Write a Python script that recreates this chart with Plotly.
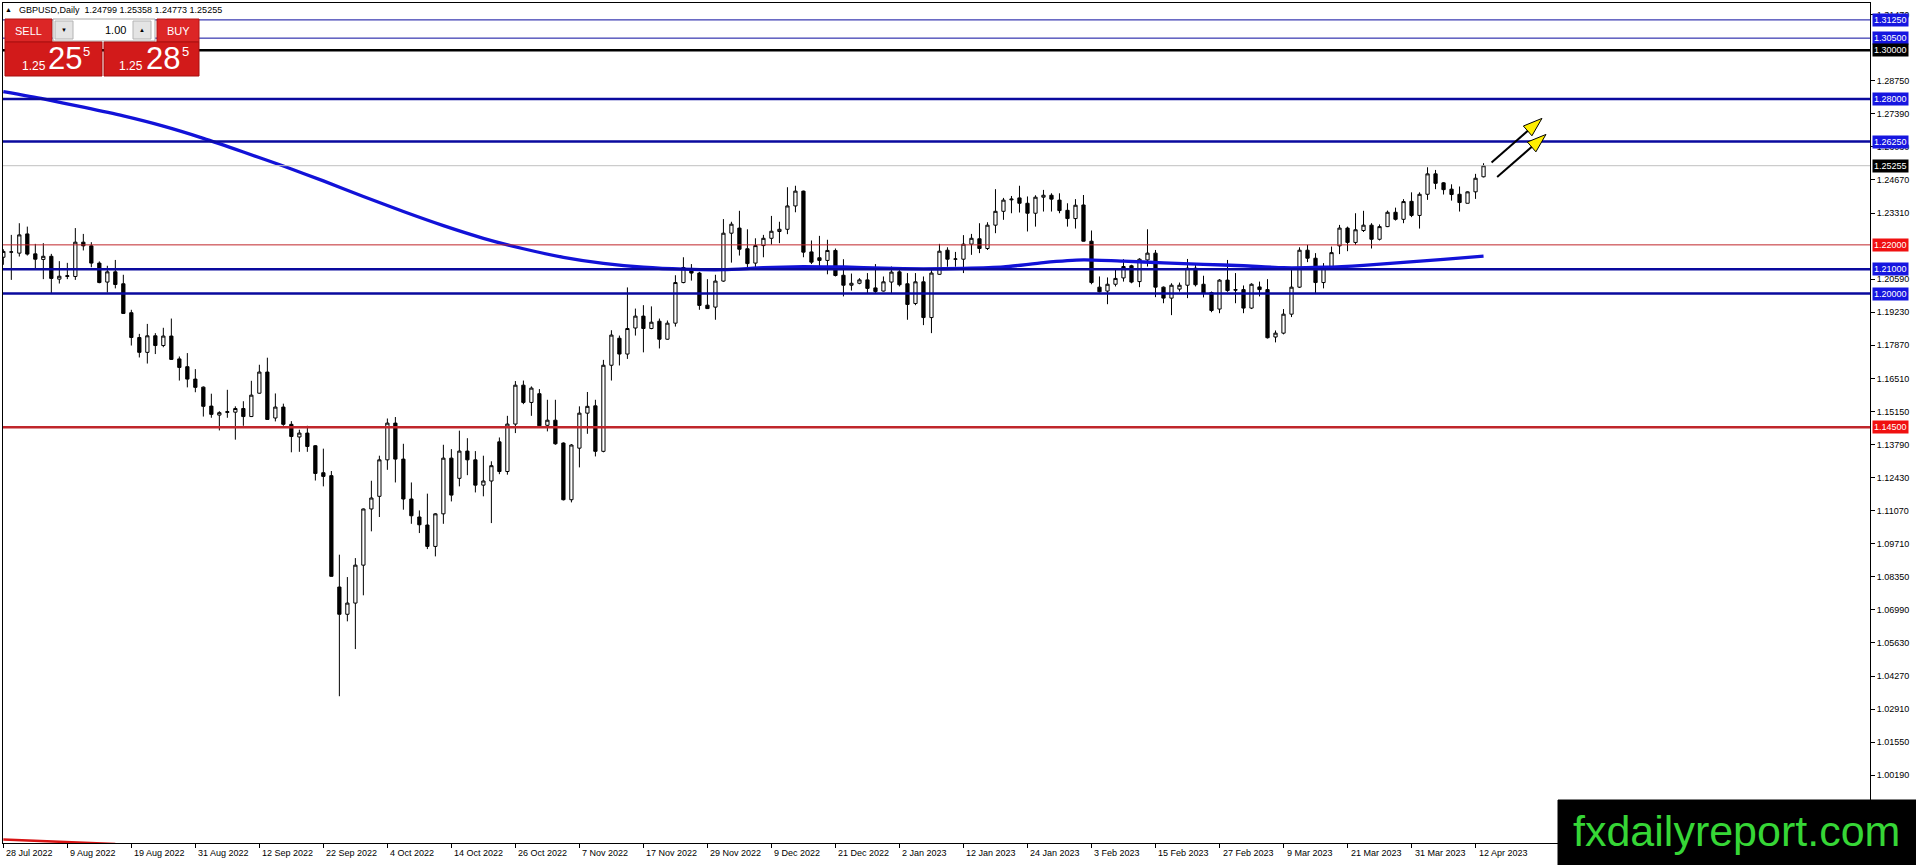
import pandas as pd
import plotly.graph_objects as go

# GBPUSD daily candles, 28 Jul 2022 .. 13 Apr 2023
opens = [
    1.2149, 1.2170, 1.2166, 1.2245, 1.2163, 1.2140, 1.2153, 1.2059, 1.2070, 1.2070,
    1.2211, 1.2196, 1.2125, 1.2047, 1.2089, 1.2040, 1.1921, 1.1819, 1.1758, 1.1826,
    1.1786, 1.1825, 1.1731, 1.1699, 1.1648, 1.1615, 1.1537, 1.1500, 1.1511, 1.1512,
    1.1527, 1.1494, 1.1590, 1.1677, 1.1488, 1.1533, 1.1462, 1.1410, 1.1426, 1.1374,
    1.1263, 1.1251, 1.0793, 1.0681, 1.0727, 1.0883, 1.1114, 1.1166, 1.1316, 1.1467,
    1.1319, 1.1155, 1.1081, 1.1048, 1.0960, 1.1094, 1.1323, 1.1240, 1.1352, 1.1316,
    1.1212, 1.1229, 1.1390, 1.1268, 1.1463, 1.1623, 1.1552, 1.1588, 1.1458, 1.1479,
    1.1385, 1.1152, 1.1364, 1.1508, 1.1538, 1.1351, 1.1705, 1.1816, 1.1751, 1.1858,
    1.1907, 1.1856, 1.1886, 1.1812, 1.1878, 1.2045, 1.2103, 1.2084, 1.1952, 1.1944,
    1.2051, 1.2248, 1.2269, 1.2184, 1.2125, 1.2197, 1.2227, 1.2255, 1.2264, 1.2360,
    1.2421, 1.2171, 1.2147, 1.2136, 1.2177, 1.2075, 1.2034, 1.2042, 1.2056, 1.2023,
    1.2010, 1.2047, 1.2089, 1.2040, 1.1959, 1.2048, 1.1901, 1.2079, 1.2178, 1.2141,
    1.2141, 1.2203, 1.2225, 1.2185, 1.2281, 1.2338, 1.2385, 1.2393, 1.2371, 1.2330,
    1.2396, 1.2404, 1.2384, 1.2342, 1.2308, 1.2364, 1.2215, 1.2026, 1.2010, 1.2038,
    1.2064, 1.2114, 1.2049, 1.2138, 1.2166, 1.2026, 1.1981, 1.2018, 1.2034, 1.2104,
    1.2038, 1.2004, 1.1936, 1.2055, 1.2016, 1.2016, 1.1940, 1.2027, 1.2016, 1.1821,
    1.1837, 1.1915, 1.2026, 1.2178, 1.2145, 1.2045, 1.2111, 1.2196, 1.2269, 1.2210,
    1.2259, 1.2281, 1.2223, 1.2275, 1.2334, 1.2305, 1.2379, 1.2321, 1.2408, 1.2492,
    1.2455, 1.2429, 1.2408, 1.2371, 1.2418, 1.24799,
]
highs = [
    1.2182, 1.2241, 1.2289, 1.2275, 1.2204, 1.2207, 1.2163, 1.2133, 1.2126, 1.2269,
    1.2245, 1.2211, 1.2132, 1.2114, 1.2138, 1.2077, 1.1933, 1.1834, 1.1875, 1.1837,
    1.1859, 1.1897, 1.1741, 1.1755, 1.1689, 1.1618, 1.1588, 1.1516, 1.1604, 1.1536,
    1.1557, 1.1641, 1.1707, 1.1736, 1.1589, 1.1547, 1.1475, 1.1440, 1.1456, 1.1377,
    1.1362, 1.1270, 1.0926, 1.0834, 1.0912, 1.1116, 1.1230, 1.1333, 1.1486, 1.1492,
    1.1382, 1.1223, 1.1108, 1.1177, 1.1097, 1.1378, 1.1360, 1.1436, 1.1405, 1.1352,
    1.1333, 1.1310, 1.1408, 1.1497, 1.1640, 1.1642, 1.1618, 1.1607, 1.1563, 1.1563,
    1.1388, 1.1381, 1.1536, 1.1595, 1.1563, 1.1727, 1.1849, 1.1827, 1.2025, 1.1938,
    1.1952, 1.1947, 1.1897, 1.1889, 1.2075, 1.2149, 1.2121, 1.2089, 1.2059, 1.2077,
    1.2306, 1.2295, 1.2340, 1.2264, 1.2227, 1.2241, 1.2319, 1.2295, 1.2437, 1.2443,
    1.2423, 1.2218, 1.2237, 1.2221, 1.2185, 1.2141, 1.2082, 1.2063, 1.2084, 1.2121,
    1.2070, 1.2111, 1.2097, 1.2084, 1.2084, 1.2070, 1.2100, 1.2204, 1.2190, 1.2171,
    1.2240, 1.2245, 1.2289, 1.2293, 1.2429, 1.2393, 1.2401, 1.2443, 1.2399, 1.2404,
    1.2426, 1.2412, 1.2412, 1.2371, 1.2388, 1.2405, 1.2259, 1.2070, 1.2066, 1.2103,
    1.2141, 1.2118, 1.2145, 1.2264, 1.2179, 1.2029, 1.2042, 1.2045, 1.2142, 1.2118,
    1.2073, 1.2008, 1.2059, 1.2138, 1.2084, 1.2033, 1.2042, 1.2049, 1.2059, 1.1848,
    1.1936, 1.2097, 1.2190, 1.2200, 1.2166, 1.2125, 1.2193, 1.2282, 1.2275, 1.2330,
    1.2340, 1.2289, 1.2284, 1.2341, 1.2353, 1.2388, 1.2416, 1.2416, 1.2519, 1.2508,
    1.2458, 1.2449, 1.2440, 1.2420, 1.2492, 1.25358,
]
lows = [
    1.2118, 1.2056, 1.2152, 1.2156, 1.2100, 1.2059, 1.2001, 1.2041, 1.2059, 1.2056,
    1.2177, 1.2108, 1.2042, 1.2004, 1.2021, 1.1916, 1.1786, 1.1737, 1.1712, 1.1751,
    1.1779, 1.1727, 1.1642, 1.1614, 1.1594, 1.1494, 1.1489, 1.1437, 1.1489, 1.1399,
    1.1456, 1.1492, 1.1588, 1.1481, 1.1474, 1.1456, 1.1347, 1.1349, 1.1349, 1.1231,
    1.1207, 1.0836, 1.0344, 1.0652, 1.0538, 1.0759, 1.1022, 1.1081, 1.1275, 1.1223,
    1.1111, 1.1053, 1.1015, 1.0949, 1.0919, 1.1053, 1.1145, 1.1207, 1.1253, 1.1182,
    1.1166, 1.1056, 1.1257, 1.1255, 1.1426, 1.1545, 1.1497, 1.1453, 1.1433, 1.1378,
    1.1149, 1.1141, 1.1285, 1.1423, 1.1330, 1.1347, 1.1642, 1.1704, 1.1731, 1.1827,
    1.1758, 1.1853, 1.1774, 1.1810, 1.1864, 1.2042, 1.2053, 1.1933, 1.1937, 1.1892,
    1.2048, 1.2127, 1.2156, 1.2101, 1.2101, 1.2149, 1.2201, 1.2207, 1.2244, 1.2334,
    1.2149, 1.2121, 1.2111, 1.2079, 1.2070, 1.1988, 1.2012, 1.2038, 1.2001, 1.2001,
    1.2008, 1.2001, 1.2029, 1.1892, 1.1952, 1.1870, 1.1837, 1.2077, 1.2110, 1.2110,
    1.2084, 1.2159, 1.2166, 1.2179, 1.2248, 1.2303, 1.2330, 1.2333, 1.2255, 1.2275,
    1.2337, 1.2337, 1.2330, 1.2275, 1.2267, 1.2214, 1.2038, 1.2004, 1.1956, 1.2029,
    1.2049, 1.2042, 1.2026, 1.2111, 1.1985, 1.1960, 1.1911, 1.2008, 1.1981, 1.2029,
    1.1984, 1.1923, 1.1919, 1.2007, 1.1960, 1.1919, 1.1936, 1.1988, 1.1815, 1.1799,
    1.1832, 1.1903, 1.2023, 1.2129, 1.2001, 1.2021, 1.2108, 1.2162, 1.2174, 1.2200,
    1.2253, 1.2185, 1.2218, 1.2273, 1.2300, 1.2289, 1.2314, 1.2267, 1.2385, 1.2429,
    1.2407, 1.2382, 1.2337, 1.2371, 1.2389, 1.24773,
]
closes = [
    1.2173, 1.2171, 1.2241, 1.2162, 1.2141, 1.2153, 1.2062, 1.2071, 1.2073, 1.2211,
    1.2196, 1.2125, 1.2045, 1.2089, 1.2037, 1.1918, 1.1819, 1.1758, 1.1826, 1.1786,
    1.1825, 1.1729, 1.1696, 1.1648, 1.1614, 1.1536, 1.1503, 1.1510, 1.1514, 1.1527,
    1.1494, 1.1582, 1.1677, 1.1482, 1.1533, 1.1462, 1.1412, 1.1426, 1.1371, 1.1260,
    1.1248, 1.0837, 1.0681, 1.0727, 1.0883, 1.1114, 1.1159, 1.1316, 1.1467, 1.1319,
    1.1155, 1.1086, 1.1049, 1.0960, 1.1094, 1.1323, 1.1171, 1.1352, 1.1316, 1.1212,
    1.1229, 1.1292, 1.1268, 1.1463, 1.1623, 1.1552, 1.1611, 1.1456, 1.1479, 1.1382,
    1.1152, 1.1377, 1.1508, 1.1536, 1.1351, 1.1705, 1.1829, 1.1751, 1.1856, 1.1907,
    1.1856, 1.1882, 1.1812, 1.1878, 1.2045, 1.2107, 1.2084, 1.1951, 1.1938, 1.2051,
    1.2248, 1.2285, 1.2182, 1.2123, 1.2197, 1.2227, 1.2256, 1.2264, 1.2360, 1.2421,
    1.2170, 1.2129, 1.2136, 1.2177, 1.2074, 1.2034, 1.2042, 1.2056, 1.2021, 1.2008,
    1.2048, 1.2088, 1.2036, 1.1955, 1.2048, 1.1901, 1.2084, 1.2174, 1.2141, 1.2142,
    1.2203, 1.2227, 1.2185, 1.2281, 1.2338, 1.2384, 1.2388, 1.2371, 1.2330, 1.2396,
    1.2404, 1.2388, 1.2341, 1.2308, 1.2363, 1.2215, 1.2045, 1.2007, 1.2038, 1.2062,
    1.2111, 1.2047, 1.2141, 1.2166, 1.2026, 1.1981, 1.2034, 1.2034, 1.2104, 1.2036,
    1.2001, 1.1930, 1.2055, 1.2012, 1.2014, 1.1940, 1.2038, 1.2016, 1.1818, 1.1837,
    1.1915, 1.2026, 1.2178, 1.2145, 1.2045, 1.2111, 1.2168, 1.2269, 1.2210, 1.2262,
    1.2281, 1.2223, 1.2275, 1.2334, 1.2305, 1.2378, 1.2321, 1.2408, 1.2492, 1.2453,
    1.2427, 1.2407, 1.2374, 1.2418, 1.2474, 1.25255,
]

# 200-period moving average, sampled every 5 bars
ma_bars = list(range(0, 186, 5))
ma_values = [
    1.2830, 1.2800, 1.2766, 1.2730, 1.2688, 1.2638, 1.2582, 1.2524, 1.2463, 1.2399,
    1.2337, 1.2279, 1.2227, 1.2184, 1.2149, 1.2124, 1.2108, 1.2100, 1.2098, 1.2106,
    1.2110, 1.2109, 1.2104, 1.2101, 1.2103, 1.2109, 1.2127, 1.2138, 1.2133, 1.2126,
    1.2120, 1.2114, 1.2106, 1.2108, 1.2116, 1.2128, 1.2140, 1.2154,
]

# red indicator line peeking in at the bottom left
low_line_bars = [0, 14]
low_line_values = [0.9755, 0.9736]

# price scale labels shown on the right
y_ticks = [
    1.0019, 1.0155, 1.0291, 1.0427, 1.0563, 1.0699, 1.0835, 1.0971, 1.1107, 1.1243,
    1.1379, 1.1515, 1.1651, 1.1787, 1.1923, 1.2059, 1.2331, 1.2467, 1.2603, 1.2739,
    1.2875, 1.3147,
]

# horizontal levels drawn on the chart
level_prices = [1.3125, 1.3050, 1.3000, 1.2800, 1.2625, 1.2200, 1.2100, 1.2000, 1.1450]

# trend arrows (bar index, price)
arrow_starts = [(186.0, 1.2539), (186.7, 1.2479)]
arrow_tips = [(192.3, 1.2720), (192.8, 1.2654)]

symbol = "GBPUSD,Daily"
lot_size = "1.00"
sell_price = 1.25255
buy_price = 1.25285
watermark = "fxdailyreport.com"

# ---------------------------------------------------------------------------
bars = list(range(len(closes)))
dates = pd.bdate_range("2022-07-28", periods=len(closes))
tick_bars = bars[::8]
tick_text = [f"{dates[i].day} {dates[i]:%b %Y}" for i in tick_bars]

FONT = "Liberation Sans"
NAVY = "#0a0a9e"
X_RANGE = [-0.04, 233.3]
Y_RANGE = [0.97405, 1.31945]
PL, PT, PW, PH = 3, 3, 1867, 840   # plot area in pixels


def fx(px):
    return (px - PL) / PW


def fy(py):
    return 1 - (py - PT) / PH


def to_px(bar, price):
    x = PL + (bar - X_RANGE[0]) / (X_RANGE[1] - X_RANGE[0]) * PW
    y = PT + (Y_RANGE[1] - price) / (Y_RANGE[1] - Y_RANGE[0]) * PH
    return x, y


def rect(x0, y0, x1, y1, fill, line=None):
    return dict(type="rect", xref="paper", yref="paper", layer="above",
                x0=fx(x0), x1=fx(x1), y0=fy(y1), y1=fy(y0), fillcolor=fill,
                line=dict(color=line or fill, width=1))


def text(x, y, s, size, color="white", anchor="center", family=FONT):
    return dict(xref="paper", yref="paper", x=fx(x), y=fy(y), text=s,
                showarrow=False, xanchor=anchor, yanchor="middle",
                font=dict(family=family, size=size, color=color))


fig = go.Figure()

fig.add_trace(go.Candlestick(
    x=bars, open=opens, high=highs, low=lows, close=closes,
    increasing=dict(line=dict(color="black", width=1), fillcolor="white"),
    decreasing=dict(line=dict(color="black", width=1), fillcolor="black"),
    whiskerwidth=0, hoverinfo="skip",
))
fig.add_trace(go.Scatter(x=ma_bars, y=ma_values, mode="lines",
                         line=dict(color="#1212d8", width=3.3, shape="spline", smoothing=0.6),
                         hoverinfo="skip"))
fig.add_trace(go.Scatter(x=low_line_bars, y=low_line_values, mode="lines",
                         line=dict(color="#d81414", width=2.5), hoverinfo="skip"))

# level styles: (line colour, width, label colour)
level_styles = {
    1.3125: (NAVY, 1, "#1616e0"),
    1.3050: (NAVY, 1, "#1616e0"),
    1.3000: ("black", 2.5, "black"),
    1.2800: (NAVY, 2.5, "#1616e0"),
    1.2625: (NAVY, 2.5, "#1616e0"),
    1.2200: ("#c0262b", 1, "#f01010"),
    1.2100: (NAVY, 2.5, "#1616e0"),
    1.2000: (NAVY, 2.5, "#1616e0"),
    1.1450: ("#c0262b", 2.5, "#f01010"),
}

shapes = []
annotations = []

last_price = closes[-1]
shapes.append(dict(type="line", xref="paper", yref="y", x0=0, x1=1,
                   y0=last_price, y1=last_price, layer="above",
                   line=dict(color="#c0c0c0", width=1)))
for p in level_prices:
    col, w, _ = level_styles[p]
    shapes.append(dict(type="line", xref="paper", yref="y", x0=0, x1=1, y0=p, y1=p,
                       layer="above", line=dict(color=col, width=w)))

for p, bg in [(p, level_styles[p][2]) for p in level_prices] + [(last_price, "black")]:
    annotations.append(dict(xref="paper", yref="y", x=1, y=p, xanchor="left",
                            yanchor="middle", xshift=2, text=f"{p:.5f}", showarrow=False,
                            bgcolor=bg, borderpad=1,
                            font=dict(family=FONT, size=9, color="white")))

# arrows: black shaft, yellow head with black outline
for (sb, sp), (tb, tp) in zip(arrow_starts, arrow_tips):
    sx, sy = to_px(sb, sp)
    tx, ty = to_px(tb, tp)
    dx, dy = tx - sx, ty - sy
    n = (dx * dx + dy * dy) ** 0.5
    ux, uy = dx / n, dy / n
    bx, by = tx - 19 * ux, ty - 19 * uy
    shapes.append(dict(type="line", xref="paper", yref="paper", layer="above",
                       x0=fx(sx), y0=fy(sy), x1=fx(bx + 4 * ux), y1=fy(by + 4 * uy),
                       line=dict(color="black", width=2)))
    pts = [(tx, ty), (bx - 6.5 * uy, by + 6.5 * ux), (bx + 6.5 * uy, by - 6.5 * ux)]
    path = "M " + " L ".join(f"{fx(x):.5f},{fy(y):.5f}" for x, y in pts) + " Z"
    shapes.append(dict(type="path", xref="paper", yref="paper", layer="above", path=path,
                       fillcolor="#ffee00", line=dict(color="black", width=1)))

# date labels, left aligned at their tick like the terminal does
for b, t in zip(tick_bars, tick_text):
    annotations.append(dict(xref="x", yref="paper", x=b, y=0, xanchor="left",
                            yanchor="top", xshift=1, yshift=-3, text=t, showarrow=False,
                            font=dict(family=FONT, size=9, color="black")))

# one-click trading panel
shapes += [
    rect(5, 19, 52, 42, "#dc2626", "#b41414"),
    rect(53, 19, 155, 41, "white", "#a8a8a8"),
    rect(55, 21, 73, 39, "#e4e4e4", "#b4b4b4"),
    rect(133, 21, 151, 39, "#e4e4e4", "#b4b4b4"),
    rect(157, 19, 199, 42, "#dc2626", "#b41414"),
    rect(5, 42, 102, 76, "#d21a1a", "#a80e0e"),
    rect(104, 42, 199, 76, "#d21a1a", "#a80e0e"),
]


def price_parts(p):
    s = f"{p:.5f}"
    return s[:4], s[4:6], s[6]


sb, sm, ss = price_parts(sell_price)
bb, bm, bs = price_parts(buy_price)
annotations += [
    text(8, 10, "▲", 7, "black"),
    text(17, 10, f"{symbol}  {opens[-1]:.5f} {highs[-1]:.5f} {lows[-1]:.5f} {closes[-1]:.5f}",
         9, "black", "left"),
    text(28, 31, "SELL", 11),
    text(64, 30, "▼", 6, "black"),
    text(128, 30, lot_size, 11, "black", "right"),
    text(142, 30, "▲", 6, "black"),
    text(178, 31, "BUY", 11),
    text(20, 66, sb, 12, anchor="left"),
    text(46, 59, sm, 31, anchor="left"),
    text(81, 51, ss, 13, anchor="left"),
    text(117, 66, bb, 12, anchor="left"),
    text(144, 59, bm, 31, anchor="left"),
    text(180, 51, bs, 13, anchor="left"),
]

# watermark
shapes.append(rect(1558, 800, 1916, 865, "black"))
annotations.append(text(1736, 831, watermark, 43, "#36d636"))

fig.update_layout(
    width=1916, height=865,
    margin=dict(l=PL, r=46, t=PT, b=22),
    paper_bgcolor="white", plot_bgcolor="white",
    showlegend=False, hovermode=False, boxgap=0.42,
    font=dict(family=FONT, size=9, color="black"),
    shapes=shapes, annotations=annotations,
    xaxis=dict(range=X_RANGE, showgrid=False, zeroline=False, rangeslider=dict(visible=False),
               showline=True, linecolor="black", linewidth=1, mirror=True,
               ticks="outside", ticklen=4, tickcolor="black", tickvals=tick_bars,
               showticklabels=False),
    yaxis=dict(range=Y_RANGE, side="right", showgrid=False, zeroline=False,
               showline=True, linecolor="black", linewidth=1, mirror=True,
               ticks="outside", ticklen=4, tickcolor="black",
               tickvals=y_ticks, tickformat=".5f",
               tickfont=dict(family=FONT, size=9, color="black")),
)

fig.write_html("out.html", config={"displayModeBar": False},
               post_script="document.body.style.margin='0';")
